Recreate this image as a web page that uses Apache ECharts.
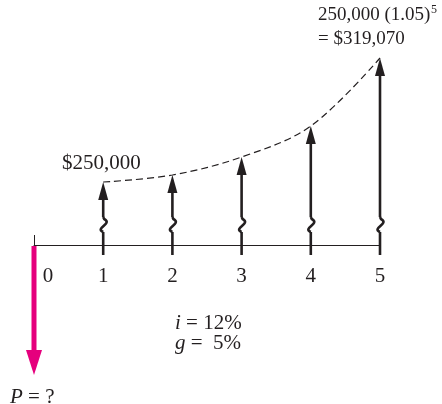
<!DOCTYPE html>
<html lang="en">
<head>
  <meta charset="UTF-8">
  <title>Geometric gradient cash flow</title>
  <script src="https://cdn.jsdelivr.net/npm/echarts@6/dist/echarts.min.js"></script>
  <style>
    html, body { margin: 0; padding: 0; background: #fff; }
  </style>
</head>
<body>
  <div id="main" style="width: 442px;height:404px;"></div>
  <script>
    // periods on the time line
    var periods = [1, 2, 3, 4, 5];
    // drawn arrow heights (the diagram is schematic, broken arrows)
    var arrowHeights = [63, 70, 88, 119, 187];
    // present worth arrow at year 0 (pointing down)
    var pPeriod = [0];
    var pDepth = [-130];
    var tickValues = [0, 1, 2, 3, 4, 5];
    var tickLabels = ['0', '1', '2', '3', '4', '5'];

    var ink = '#231f20';
    var magenta = '#e5007d';
    var serif = 'Liberation Serif';
    var font = '21px "Liberation Serif"';

    var myChart = echarts.init(document.getElementById('main'));

    function arrowItem(params, api) {
      var x = api.value(0), h = api.value(1);
      var tip = api.coord([x, h]);
      var base = api.coord([x, 0]);
      var px = base[0];
      var lineStyle = { stroke: ink, lineWidth: 2.6, fill: null };
      var headLen = 18, headW = 5;
      var sqBot = base[1] - 13, sqTop = base[1] - 28;
      return {
        type: 'group',
        children: [
          { type: 'line', shape: { x1: px, y1: base[1] + 10, x2: px, y2: sqBot }, style: lineStyle },
          {
            type: 'path',
            shape: {
              pathData: 'M' + px + ',' + sqBot +
                ' C' + (px - 9) + ',' + (sqBot - 4) + ' ' + (px + 10) + ',' + (sqTop + 7) + ' ' + (px + 1) + ',' + (sqTop + 2) +
                ' L' + px + ',' + sqTop
            },
            style: lineStyle
          },
          { type: 'line', shape: { x1: px, y1: sqTop, x2: px, y2: tip[1] + headLen - 2 }, style: lineStyle },
          {
            type: 'polygon',
            shape: { points: [[px, tip[1]], [px - headW, tip[1] + headLen], [px + headW, tip[1] + headLen]] },
            style: { fill: ink }
          }
        ]
      };
    }

    function downArrowItem(params, api) {
      var x = api.value(0), d = api.value(1);
      var tip = api.coord([x, d]);
      var base = api.coord([x, 0]);
      var headLen = 25, headW = 8;
      return {
        type: 'group',
        children: [
          { type: 'line', shape: { x1: base[0], y1: base[1] + 1, x2: base[0], y2: tip[1] - headLen + 2 }, style: { stroke: magenta, lineWidth: 5 } },
          {
            type: 'polygon',
            shape: { points: [[tip[0], tip[1]], [tip[0] - headW, tip[1] - headLen], [tip[0] + headW, tip[1] - headLen]] },
            style: { fill: magenta }
          }
        ]
      };
    }

    // tick labels sit just under the time line; "0" is nudged right of its tick
    function tickLabelItem(params, api) {
      var v = api.value(0);
      var p = api.coord([v, 0]);
      return {
        type: 'text',
        x: p[0] + (v === 0 ? 14 : 0),
        y: p[1] + 31,
        style: { text: tickLabels[params.dataIndex], font: font, fill: ink, align: 'center', verticalAlign: 'middle' }
      };
    }

    var option = {
      animation: false,
      grid: { left: 34, right: 62, top: 45, bottom: 29, containLabel: false, outerBoundsMode: 'none' },
      xAxis: {
        type: 'value',
        min: 0,
        max: 5,
        interval: 1,
        splitLine: { show: false },
        axisLine: { onZero: true, lineStyle: { color: ink, width: 1 } },
        axisTick: { inside: true, length: 10, lineStyle: { color: ink, width: 1 } },
        axisLabel: { show: false }
      },
      yAxis: { type: 'value', min: -130, max: 200, show: false },
      graphic: [
        { type: 'text', left: 62, top: 153, style: { text: '$250,000', font: font, fill: ink } },
        { type: 'text', left: 318, top: 6, style: { text: '250,000 (1.05)', font: '19px "Liberation Serif"', fill: ink } },
        { type: 'text', left: 431, top: 4, style: { text: '5', font: '12px "Liberation Serif"', fill: ink } },
        { type: 'text', left: 318, top: 30, style: { text: '= $319,070', font: '19px "Liberation Serif"', fill: ink } },
        {
          type: 'text', left: 175, top: 313,
          style: {
            text: '{it|i} = 12%\n{it|g} =  5%',
            font: font,
            lineHeight: 20,
            fill: ink,
            rich: { it: { fontFamily: serif, fontSize: 21, fontStyle: 'italic', fill: ink } }
          }
        },
        {
          type: 'text', left: 10, top: 387,
          style: {
            text: '{it|P} = ?',
            font: font,
            fill: ink,
            rich: { it: { fontFamily: serif, fontSize: 21, fontStyle: 'italic', fill: ink } }
          }
        }
      ],
      series: [
        {
          type: 'line',
          data: periods.map(function (p, i) { return [p, arrowHeights[i]]; }),
          smooth: 0.35,
          symbol: 'none',
          lineStyle: { color: ink, width: 1.2, type: [7, 4] },
          z: 1
        },
        {
          type: 'custom',
          data: periods.map(function (p, i) { return [p, arrowHeights[i]]; }),
          renderItem: arrowItem,
          z: 3
        },
        {
          type: 'custom',
          data: pPeriod.map(function (p, i) { return [p, pDepth[i]]; }),
          renderItem: downArrowItem,
          z: 4
        },
        {
          type: 'custom',
          data: tickValues.map(function (v) { return [v, 0]; }),
          renderItem: tickLabelItem,
          z: 5
        }
      ]
    };
    myChart.setOption(option);
  </script>
</body>
</html>
